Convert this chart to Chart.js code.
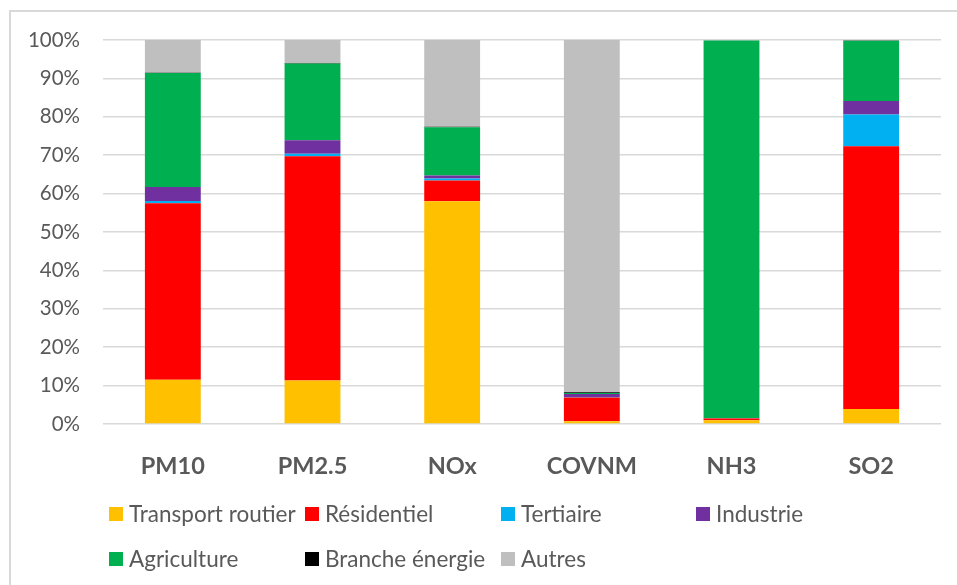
<!DOCTYPE html>
<html>
<head>
<meta charset="utf-8">
<script src="https://cdn.jsdelivr.net/npm/chart.js@4.4.1/dist/chart.umd.min.js"></script>
<style>
  html, body { margin: 0; padding: 0; background: #fff; }
  #wrap { position: relative; width: 957px; height: 585px; }
</style>
</head>
<body>
<div id="wrap"><canvas id="myChart" width="957" height="585"></canvas></div>
<script>
// catégories (polluants) et parts en %
const polluants = ["PM10", "PM2.5", "NOx", "COVNM", "NH3", "SO2"];
const transportRoutier = [11.5, 11.3, 58.0, 0.7, 1.0, 3.9];
const residentiel = [46.0, 58.4, 5.4, 6.2, 0.4, 68.4];
const tertiaire = [0.6, 0.7, 0.5, 0.1, 0.0, 8.3];
const industrie = [3.6, 3.5, 0.8, 0.8, 0.1, 3.5];
const agriculture = [29.7, 20.0, 12.6, 0.3, 98.4, 15.7];
const brancheEnergie = [0.1, 0.1, 0.1, 0.2, 0.0, 0.1];
const autres = [8.5, 6.0, 22.6, 91.7, 0.1, 0.1];
const yTicks = [0, 10, 20, 30, 40, 50, 60, 70, 80, 90, 100];

const textColor = "#595959";
const gridColor = "#d9d9d9";

function serie(label, data, color) {
  return {
    label: label,
    data: data,
    backgroundColor: color,
    borderWidth: 0,
    barPercentage: 0.4,
    categoryPercentage: 1,
  };
}

const data = {
  labels: polluants,
  datasets: [
    serie("Transport routier", transportRoutier, "#FFC000"),
    serie("Résidentiel", residentiel, "#FF0000"),
    serie("Tertiaire", tertiaire, "#00B0F0"),
    serie("Industrie", industrie, "#7030A0"),
    serie("Agriculture", agriculture, "#00B050"),
    serie("Branche énergie", brancheEnergie, "#000000"),
    serie("Autres", autres, "#BFBFBF"),
  ],
};

// cadre du graphique (bord gauche et haut visibles)
const cadre = {
  id: "cadre",
  beforeDraw(chart) {
    const ctx = chart.ctx;
    ctx.save();
    ctx.strokeStyle = gridColor;
    ctx.lineWidth = 2;
    ctx.beginPath();
    ctx.moveTo(10, 585);
    ctx.lineTo(10, 11);
    ctx.lineTo(957, 11);
    ctx.stroke();
    ctx.restore();
  },
};

// légende en colonnes façon Excel
const legende = {
  id: "legende",
  afterDraw(chart) {
    const ctx = chart.ctx;
    const colX = [109, 305, 501, 696];
    const rowY = [514, 559];
    ctx.save();
    ctx.font = "22.5px Lato";
    ctx.textBaseline = "middle";
    chart.data.datasets.forEach((ds, i) => {
      const x = colX[i % 4];
      const y = rowY[Math.floor(i / 4)];
      ctx.fillStyle = ds.backgroundColor;
      ctx.fillRect(x, y - 7, 14, 14);
      ctx.fillStyle = textColor;
      ctx.fillText(ds.label, x + 20, y + 1);
    });
    ctx.restore();
  },
};

const config = {
  type: "bar",
  data: data,
  options: {
    responsive: false,
    animation: false,
    devicePixelRatio: 1,
    layout: { padding: { top: 40, right: 16, bottom: 0, left: 0 } },
    plugins: {
      legend: { display: false },
      tooltip: { enabled: false },
    },
    scales: {
      x: {
        stacked: true,
        grid: { display: false },
        border: { display: false },
        ticks: {
          color: textColor,
          padding: 20,
          font: { family: "Lato", size: 23.5, weight: "bold" },
        },
        afterFit(scale) { scale.height = 161; },
      },
      y: {
        stacked: true,
        min: 0,
        max: 100,
        afterBuildTicks(scale) { scale.ticks = yTicks.map(v => ({ value: v })); },
        grid: { color: gridColor, lineWidth: 1.5, drawTicks: false },
        border: { display: false },
        ticks: {
          color: textColor,
          padding: 23,
          font: { family: "Lato", size: 20.5 },
          callback: (v) => v + "%",
        },
        afterFit(scale) { scale.width = 103; },
      },
    },
  },
  plugins: [cadre, legende],
};

let context = document.getElementById("myChart").getContext("2d");
let chart = new Chart(context, config);
</script>
</body>
</html>
